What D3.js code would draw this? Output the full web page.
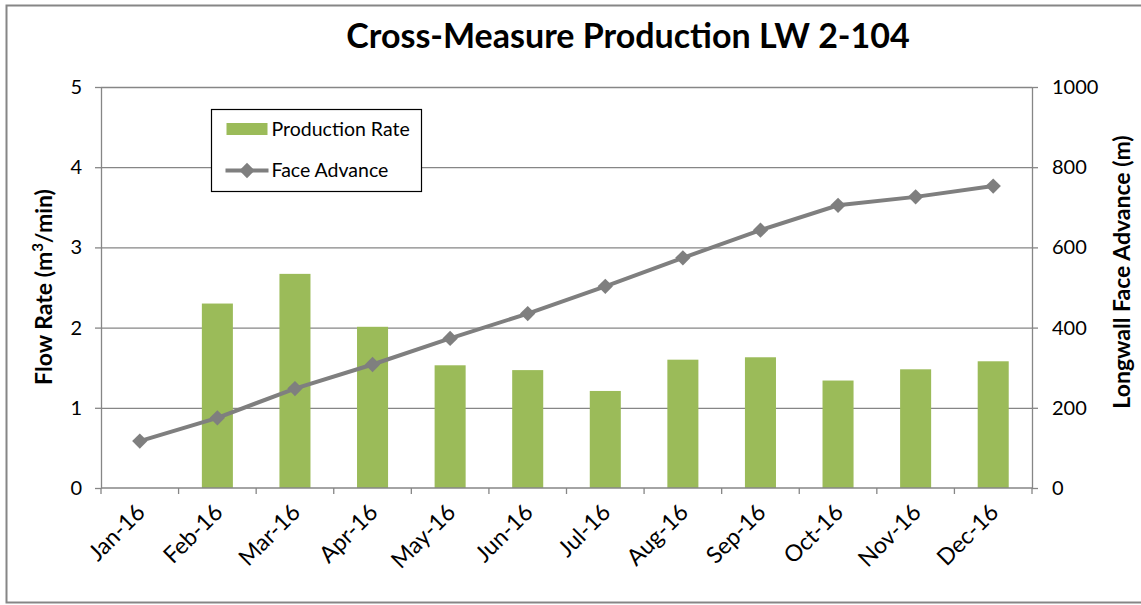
<!DOCTYPE html>
<html>
<head>
<meta charset="utf-8">
<script src="https://cdn.jsdelivr.net/npm/d3@7"></script>
<style>
  body { margin: 0; background: #fff; }
  svg text { font-family: Lato, "Open Sans", sans-serif; fill: #000; }
</style>
</head>
<body>
<div id="chart"></div>
<script>
const months = ["Jan-16", "Feb-16", "Mar-16", "Apr-16", "May-16", "Jun-16",
  "Jul-16", "Aug-16", "Sep-16", "Oct-16", "Nov-16", "Dec-16"];
// production rate (m3/min), no bar for Jan
const productionRate = [null, 2.30, 2.67, 2.01, 1.53, 1.47, 1.21, 1.60, 1.63, 1.34, 1.48, 1.58];
// cumulative face advance (m)
const faceAdvance = [117, 175, 248, 308, 373, 435, 503, 574, 643, 705, 726, 753];
const leftTicks = [0, 1, 2, 3, 4, 5];
const rightTicks = [0, 200, 400, 600, 800, 1000];

const svgWidth = 1141, svgHeight = 605;
const margin = { top: 87, right: 109, bottom: 117, left: 101 };
const width = svgWidth - margin.left - margin.right;
const height = svgHeight - margin.top - margin.bottom;

const svg = d3.select("#chart").append("svg")
  .attr("width", svgWidth)
  .attr("height", svgHeight);

// outer chart border
svg.append("rect")
  .attr("x", 6.5).attr("y", 5.5)
  .attr("width", 1150).attr("height", 597)
  .attr("fill", "none")
  .attr("stroke", "#868686")
  .attr("stroke-width", 2);

svg.append("text")
  .attr("x", 628).attr("y", 48)
  .attr("text-anchor", "middle")
  .attr("font-size", 34)
  .attr("font-weight", "bold")
  .text("Cross-Measure Production LW 2-104");

const chart = svg.append("g")
  .attr("transform", `translate(${margin.left},${margin.top})`);

const x = d3.scaleBand().domain(months).range([0, width]);
const yLeft = d3.scaleLinear().domain([0, 5]).range([height, 0]);
const yRight = d3.scaleLinear().domain([0, 1000]).range([height, 0]);

// gridlines
chart.append("g")
  .selectAll("line")
  .data(leftTicks.slice(1))
  .join("line")
  .attr("x1", 0).attr("x2", width)
  .attr("y1", d => yLeft(d) + 0.5).attr("y2", d => yLeft(d) + 0.5)
  .attr("stroke", "#868686")
  .attr("stroke-width", 1.3);

// bars
const barW = x.bandwidth() * 0.4;
chart.append("g")
  .selectAll("rect")
  .data(months.map((m, i) => ({ m, v: productionRate[i] })).filter(d => d.v != null))
  .join("rect")
  .attr("x", d => x(d.m) + (x.bandwidth() - barW) / 2)
  .attr("y", d => yLeft(d.v))
  .attr("width", barW)
  .attr("height", d => height - yLeft(d.v))
  .attr("fill", "#9bbb59");

// axes
const styleAxis = g => {
  g.select(".domain").attr("stroke", "#868686").attr("stroke-width", 1.3);
  g.selectAll(".tick line").attr("stroke", "#868686").attr("stroke-width", 1.3);
  g.selectAll("text").attr("font-size", 20).attr("font-family", "Lato, 'Open Sans', sans-serif");
};

chart.append("g")
  .call(d3.axisLeft(yLeft).tickValues(leftTicks).tickFormat(d3.format("d"))
    .tickSize(6).tickPadding(13).tickSizeOuter(0))
  .call(styleAxis);

chart.append("g")
  .attr("transform", `translate(${width},0)`)
  .call(d3.axisRight(yRight).tickValues(rightTicks).tickFormat(d3.format("d"))
    .tickSize(6).tickPadding(14).tickSizeOuter(0))
  .call(styleAxis);

// x axis with ticks at category boundaries
const xAxis = chart.append("g")
  .attr("transform", `translate(0,${height})`);
xAxis.append("line")
  .attr("x1", 0).attr("x2", width)
  .attr("stroke", "#868686").attr("stroke-width", 1.3);
xAxis.selectAll("line.tk")
  .data(d3.range(months.length + 1))
  .join("line")
  .attr("class", "tk")
  .attr("x1", i => i * x.step()).attr("x2", i => i * x.step())
  .attr("y1", 0).attr("y2", 6)
  .attr("stroke", "#868686").attr("stroke-width", 1.3);
xAxis.selectAll("text")
  .data(months)
  .join("text")
  .attr("transform", d => `translate(${x(d) + x.bandwidth() / 2 + 1},${20}) rotate(-45)`)
  .attr("text-anchor", "end")
  .attr("dy", "0.35em")
  .attr("font-size", 23)
  .text(d => d);

// face advance line
const line = d3.line()
  .x((d, i) => x(months[i]) + x.bandwidth() / 2)
  .y(d => yRight(d));

chart.append("path")
  .datum(faceAdvance)
  .attr("d", line)
  .attr("fill", "none")
  .attr("stroke", "#7f7f7f")
  .attr("stroke-width", 4);

const diamond = d3.symbol().type(d3.symbolDiamond2).size(150);
chart.append("g")
  .selectAll("path")
  .data(faceAdvance)
  .join("path")
  .attr("transform", (d, i) => `translate(${x(months[i]) + x.bandwidth() / 2},${yRight(d)})`)
  .attr("d", diamond)
  .attr("fill", "#7f7f7f");

// axis titles
svg.append("text")
  .attr("transform", "translate(52,287) rotate(-90)")
  .attr("text-anchor", "middle")
  .attr("font-size", 23)
  .attr("font-weight", "bold")
  .html("Flow Rate (m<tspan baseline-shift='super' font-size='15'>3</tspan>/min)");

svg.append("text")
  .attr("transform", "translate(1130,272) rotate(-90)")
  .attr("text-anchor", "middle")
  .attr("font-size", 23)
  .attr("font-weight", "bold")
  .text("Longwall Face Advance (m)");

// legend
const legend = svg.append("g").attr("transform", "translate(211.5,109.5)");
legend.append("rect")
  .attr("width", 210).attr("height", 82)
  .attr("fill", "#fff")
  .attr("stroke", "#000")
  .attr("stroke-width", 1.2);
legend.append("rect")
  .attr("x", 15).attr("y", 13.5)
  .attr("width", 41).attr("height", 12)
  .attr("fill", "#9bbb59");
legend.append("text")
  .attr("x", 60).attr("y", 20)
  .attr("dy", "0.35em")
  .attr("font-size", 19.5)
  .text("Production Rate");
legend.append("line")
  .attr("x1", 14).attr("x2", 57)
  .attr("y1", 61).attr("y2", 61)
  .attr("stroke", "#7f7f7f").attr("stroke-width", 4);
legend.append("path")
  .attr("transform", "translate(35.5,61)")
  .attr("d", diamond)
  .attr("fill", "#7f7f7f");
legend.append("text")
  .attr("x", 60).attr("y", 61)
  .attr("dy", "0.35em")
  .attr("font-size", 19.5)
  .text("Face Advance");
</script>
</body>
</html>
